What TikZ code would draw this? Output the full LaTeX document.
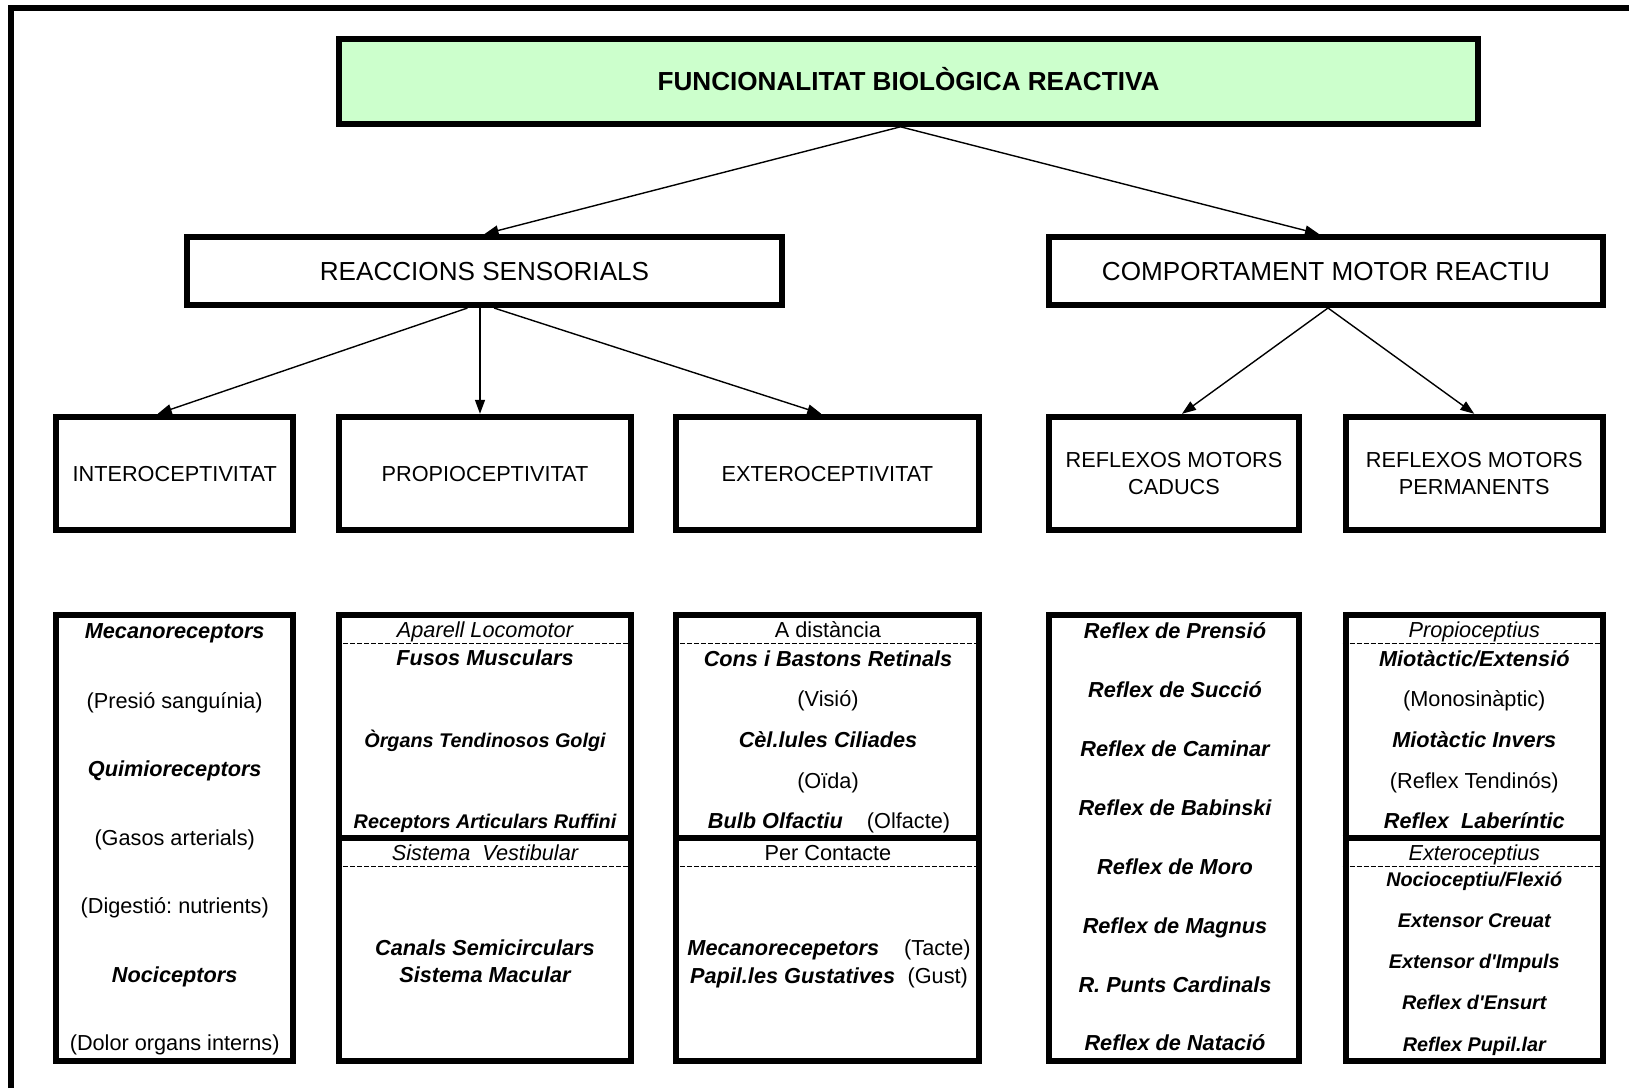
\documentclass[tikz,border=0pt]{standalone}
\usepackage{fontspec}
\setmainfont{Liberation Sans}
\usetikzlibrary{arrows.meta}
\usetikzlibrary{calc}

\definecolor{titlegreen}{RGB}{204,255,204}

\tikzset{
  box/.style={draw, line width=3pt, inner sep=0pt, align=center},
  bigcaps/.style={font=\fontsize{13.05}{16}\selectfont, text height=9.35pt, text depth=0pt},
  midcaps/.style={font=\fontsize{10.85}{13.5}\selectfont},
  txt/.style={inner sep=0pt, text height=7.77pt, text depth=0pt, font=\fontsize{10.85}{13}\selectfont},
  itxt/.style={txt, font=\fontsize{10.85}{13}\selectfont\itshape},
  bitxt/.style={txt, font=\fontsize{10.85}{13}\selectfont\bfseries\itshape},
  sbitxt/.style={txt, text height=7.09pt, font=\fontsize{9.9}{12}\selectfont\bfseries\itshape},
  arr/.style={-{Triangle[length=7pt,width=5pt]}, line width=0.7pt},
  dashsep/.style={line width=0.75pt, dash pattern=on 2.5pt off 1pt},
}

\frenchspacing

\begin{document}
\begin{tikzpicture}[x=0.5pt,y=-0.5pt]
  \useasboundingbox (0,0) rectangle (1629,1088);
  % frame
  \draw[line width=3pt] (11,1088) -- (11,8) -- (1629,8);

  % top levels
  \node[box, bigcaps, font=\fontsize{13.05}{16}\selectfont\bfseries, fill=titlegreen,
        minimum width=569.5pt, minimum height=42.5pt] (title) at (908.5,81.3)
        {FUNCIONALITAT BIOLÒGICA REACTIVA};
  \node[box, bigcaps, minimum width=297.5pt, minimum height=34pt] (reac) at (484.5,271)
        {REACCIONS SENSORIALS};
  \node[box, bigcaps, minimum width=277pt, minimum height=34pt] (comp) at (1326,271)
        {COMPORTAMENT MOTOR REACTIU};

  % second row
  \node[box, midcaps, text height=7.77pt, text depth=0pt, minimum width=118.35pt, minimum height=56.5pt] (intero) at (174.7,473.3) {INTEROCEPTIVITAT};
  \node[box, midcaps, text height=7.77pt, text depth=0pt, minimum width=146pt, minimum height=56.5pt] (propio) at (485,473.3) {PROPIOCEPTIVITAT};
  \node[box, midcaps, text height=7.77pt, text depth=0pt, minimum width=151.5pt, minimum height=56.5pt] (extero) at (827.3,473.3) {EXTEROCEPTIVITAT};
  \node[box, midcaps, minimum width=125pt, minimum height=56.5pt] (caducs) at (1174,473.3) {REFLEXOS MOTORS\\CADUCS};
  \node[box, midcaps, minimum width=128.75pt, minimum height=56.5pt] (perman) at (1474.3,473.3) {REFLEXOS MOTORS\\PERMANENTS};

  % arrows
  \draw[arr] ($(title.south)+(-8,0)$) -- (reac.north);
  \draw[arr] ($(title.south)+(-8,0)$) -- ($(comp.north)+(-7,0)$);
  \draw[arr] ($(reac.south)+(-17,0)$) -- ($(intero.north)+(-17,0)$);
  \draw[arr] ($(reac.south)+(-4.5,0)$) -- ($(propio.north)+(-5,0)$);
  \draw[arr] ($(reac.south)+(9.5,0)$) -- ($(extero.north)+(-6,0)$);
  \draw[arr] ($(comp.south)+(2,0)$) -- ($(caducs.north)+(8,0)$);
  \draw[arr] ($(comp.south)+(2,0)$) -- (perman.north);

  % third row
  \node[box, minimum width=118.35pt, minimum height=222.7pt] (intB) at (174.7,838) {};
  \node[box, minimum width=146pt, minimum height=222.7pt] (propB) at (485,838) {};
  \node[box, minimum width=151.5pt, minimum height=222.7pt] (extB) at (827.3,838) {};
  \node[box, minimum width=125pt, minimum height=222.7pt] (cadB) at (1174,838) {};
  \node[box, minimum width=128.75pt, minimum height=222.7pt] (perB) at (1474.3,838) {};

  \foreach \b in {propB,extB,perB}{
    \draw[dashsep] ($(\b.north west)+(0,31)$) -- ($(\b.north east)+(0,31)$);
    \draw[line width=3pt] (\b.west) -- (\b.east);
    \draw[dashsep] ($(\b.west)+(0,28.7)$) -- ($(\b.east)+(0,28.7)$);
  }

  % interoceptivitat
  \node[bitxt] (i1) at (174.7,630.7) {Mecanoreceptors};
  \node[txt]   (i2) at (174.7,700.3) {(Presió sanguínia)};
  \node[bitxt] (i3) at (174.7,768.9) {Quimioreceptors};
  \node[txt]   (i4) at (174.7,837.4) {(Gasos arterials)};
  \node[txt]   (i5) at (174.7,906) {(Digestió: nutrients)};
  \node[bitxt] (i6) at (174.7,974.6) {Nociceptors};
  \node[txt]   (i7) at (174.7,1043.2) {(Dolor organs interns)};

  % propioceptivitat
  \node[itxt]   (p1) at (485,629.6) {Aparell Locomotor};
  \node[bitxt]  (p2) at (485,657.7) {Fusos Musculars};
  \node[sbitxt] (p3) at (485,740.8) {Òrgans Tendinosos Golgi};
  \node[sbitxt] (p4) at (485,821.8) {Receptors Articulars Ruffini};
  \node[itxt]   (p5) at (485,853) {Sistema\ \ Vestibular};
  \node[bitxt]  (p6) at (485,947.6) {Canals Semicirculars};
  \node[bitxt]  (p7) at (485,974.6) {Sistema Macular};

  % exteroceptivitat
  \node[txt]   (e1) at (828,629.6) {A distància};
  \node[bitxt] (e2) at (828,658.7) {Cons i Bastons Retinals};
  \node[txt]   (e3) at (828,699.2) {(Visió)};
  \node[bitxt] (e4) at (828,739.8) {Cèl.lules Ciliades};
  \node[txt]   (e5) at (828,780.3) {(Oïda)};
  \node[txt]   (e6) at (829,820.8) {{\bfseries\itshape Bulb Olfactiu}\hspace{12pt}(Olfacte)};
  \node[txt]   (e7) at (828,853) {Per Contacte};
  \node[txt]   (e8) at (829,947.6) {{\bfseries\itshape Mecanorecepetors}\hspace{12.5pt}(Tacte)};
  \node[txt]   (e9) at (829,975.6) {{\bfseries\itshape Papil.les Gustatives}\hspace{6.25pt}(Gust)};

  % reflexos caducs
  \foreach \t [count=\i from 0] in {Reflex de Prensió, Reflex de Succió, Reflex de Caminar,
      Reflex de Babinski, Reflex de Moro, Reflex de Magnus, R. Punts Cardinals, Reflex de Natació}
    \node[bitxt] (c\i) at (1175,630.7+58.93*\i) {\t};

  % reflexos permanents
  \node[itxt]   (r1) at (1474.3,629.6) {Propioceptius};
  \node[bitxt]  (r2) at (1474.3,658.7) {Miotàctic/Extensió};
  \node[txt]    (r3) at (1474.3,699.2) {(Monosinàptic)};
  \node[bitxt]  (r4) at (1474.3,739.8) {Miotàctic Invers};
  \node[txt]    (r5) at (1474.3,780.3) {(Reflex Tendinós)};
  \node[bitxt]  (r6) at (1474.3,820.8) {Reflex\ \ Laberíntic};
  \node[itxt]   (r7) at (1474.3,853) {Exteroceptius};
  \node[sbitxt] (r8) at (1474.3,879) {Nocioceptiu/Flexió};
  \node[sbitxt] (r9) at (1474.3,920.6) {Extensor Creuat};
  \node[sbitxt] (r10) at (1474.3,961) {Extensor d\textquotesingle Impuls};
  \node[sbitxt] (r11) at (1474.3,1002.6) {Reflex d\textquotesingle Ensurt};
  \node[sbitxt] (r12) at (1474.3,1044.2) {Reflex Pupil.lar};
\end{tikzpicture}
\end{document}
